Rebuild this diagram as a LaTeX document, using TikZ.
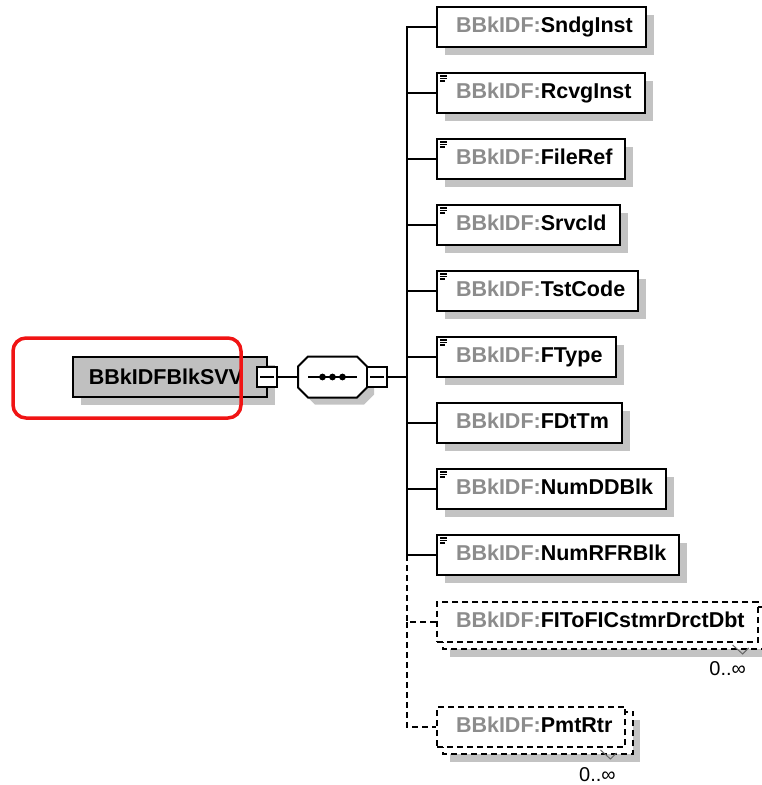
\documentclass[tikz,border=0pt]{standalone}
\usepackage{fontspec}
\setmainfont{Liberation Sans}
\usetikzlibrary{shadows}
\pgfdeclarelayer{bg}
\pgfsetlayers{bg,main}
\definecolor{sh}{HTML}{C3C3C3}
\definecolor{rootfill}{HTML}{C0C0C0}
\definecolor{pre}{HTML}{8C8C8C}
\definecolor{hl}{HTML}{F01414}
\newcommand{\elname}[1]{\kern19pt\textcolor{pre}{BBkIDF:}#1\kern13pt}
\tikzset{
  ln/.style={line width=2pt},
  dashbox/.style={dash pattern=on 6pt off 4pt},
  box/.style={draw, ln, fill=white, anchor=west, minimum height=40pt,
    inner ysep=0pt, inner xsep=0pt, text height=15.5pt, text depth=4.5pt,
    font=\fontsize{21.5}{24}\selectfont\bfseries},
  elem/.style={box, drop shadow={shadow xshift=8pt, shadow yshift=-8pt, fill=sh, opacity=1}},
  multi/.style={box, dashbox},
  ico/.style={path picture={
    \draw[line width=1.1pt] ([shift={(3,3)}]path picture bounding box.north west) -- ++(7,0);
    \draw[line width=1.1pt] ([shift={(3,5.5)}]path picture bounding box.north west) -- ++(7,0);
    \draw[line width=1.1pt] ([shift={(3,8)}]path picture bounding box.north west) -- ++(5,0);}},
  minus/.style={draw, line width=1.6pt, fill=white, minimum size=20pt, inner sep=0pt,
    path picture={\draw[line width=1.4pt] ([xshift=-7pt]path picture bounding box.center) -- ([xshift=7pt]path picture bounding box.center);}},
  lab/.style={font=\fontsize{20}{22}\selectfont, inner sep=0pt},
  tick/.style={line width=1pt, black!60}
}
\begin{document}
\begin{tikzpicture}[x=1pt,y=-1pt]
\useasboundingbox (0,0) rectangle (762,785);
\clip (0,0) rectangle (762,785);

% root element
\node[draw, ln, fill=rootfill, minimum width=194pt, minimum height=40pt, inner sep=0pt,
  font=\fontsize{21.5}{24}\selectfont\bfseries,
  drop shadow={shadow xshift=8pt, shadow yshift=-8pt, fill=sh, opacity=1}]
  (root) at (170,377) {BBkIDFBlkSVV\kern8pt};
\node[minus] (rm) at (267,377) {};

% sequence compositor
\node[minimum width=69pt, minimum height=41pt, inner sep=0pt] (seq) at (332.5,377) {};
\begin{scope}[shift={(7,7)}]
\fill[sh] (308,356.5) -- (357,356.5) -- (367,366.5) -- (367,387.5) -- (357,397.5) -- (308,397.5) -- (298,387.5) -- (298,366.5) -- cycle;
\end{scope}
\draw[ln, fill=white] (308,356.5) -- (357,356.5) -- (367,366.5) -- (367,387.5) -- (357,397.5) -- (308,397.5) -- (298,387.5) -- (298,366.5) -- cycle;
\draw[line width=1.6pt] ([xshift=-24.5pt]seq.center) -- ([xshift=24.5pt]seq.center);
\foreach \dx in {-10,0,10} \fill ([xshift=\dx pt]seq.center) circle (3.4pt);
\node[minus] (sm) at (377,377) {};

\coordinate (spine) at (407,377);

% children
\node[elem] (c1) at (436,27) {\elname{SndgInst}};
\node[elem, ico] (c2) at (436,93) {\elname{RcvgInst}};
\node[elem, ico] (c3) at (436,159) {\elname{FileRef}};
\node[elem, ico] (c4) at (436,225) {\elname{SrvcId}};
\node[elem, ico] (c5) at (436,291) {\elname{TstCode}};
\node[elem, ico] (c6) at (436,357) {\elname{FType}};
\node[elem] (c7) at (436,423) {\elname{FDtTm}};
\node[elem, ico] (c8) at (436,489) {\elname{NumDDBlk}};
\node[elem, ico] (c9) at (436,555) {\elname{NumRFRBlk}};
\node[multi] (c10) at (436,622) {\elname{FIToFICstmrDrctDbt}};
\node[multi] (c11) at (436,727) {\elname{PmtRtr}};

\begin{pgfonlayer}{bg}
  \foreach \n in {c10,c11}{
    \fill[sh] ([shift={(14,14)}]\n.north west) rectangle ([shift={(14,14)}]\n.south east);
    \draw[ln, dashbox, fill=white] ([shift={(7,6)}]\n.north west) rectangle ([shift={(7,6)}]\n.south east);
  }
\end{pgfonlayer}
\foreach \n in {c10,c11}{
  \draw[tick] ([shift={(-26,2)}]\n.south east) -- ([shift={(-16,11)}]\n.south east) -- ([shift={(-10,5)}]\n.south east);
}
\node[lab] (l10) at ([shift={(-31,26)}]c10.south east) {0..∞};
\node[lab] (l11) at ([shift={(-29,27)}]c11.south east) {0..∞};

% connectors
\draw[ln] (rm.east) -- (seq.west);
\draw[ln] (sm.east) -- (spine);
\foreach \n in {c1,c2,c3,c4,c5,c6,c7,c8,c9}
  \draw[ln] (spine) |- (\n.west);
\draw[ln, dashbox] (spine |- c9.west) |- (c10.west);
\draw[ln, dashbox] (spine |- c10.west) |- (c11.west);

% highlight
\node[draw=hl, line width=3.5pt, rounded corners=13pt, minimum width=228pt, minimum height=80pt, inner sep=0pt] (hilite) at (127,378) {};
\end{tikzpicture}
\end{document}
